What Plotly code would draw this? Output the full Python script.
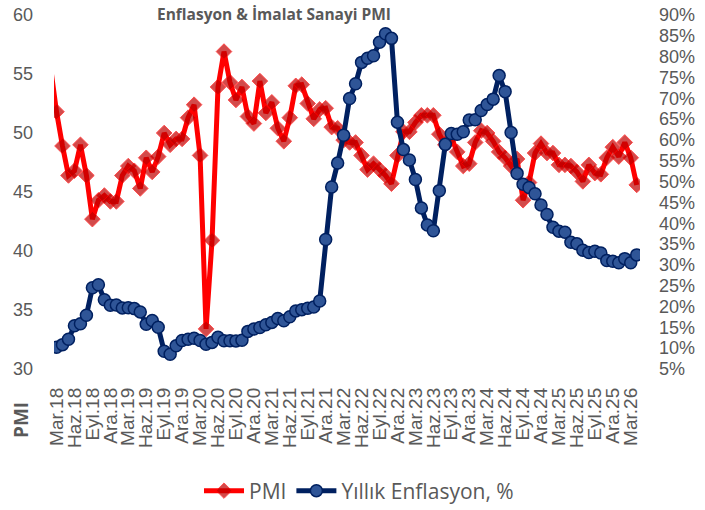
import plotly.graph_objects as go

# ---- data ----
month_names = ["Oca", "Şub", "Mar", "Nis", "May", "Haz", "Tem", "Ağu", "Eyl", "Eki", "Kas", "Ara"]
# categories from Şub.18 to Nis.26
months = []
for yr in range(18, 27):
    for m in month_names:
        months.append(f"{m}.{yr}")
months = months[months.index("Şub.18"): months.index("Nis.26") + 1]

pmi = [
    55.6, 51.8, 48.9, 46.4, 46.8, 49.0, 46.4, 42.7, 44.3, 44.7, 44.2,
    44.2, 46.4, 47.2, 46.8, 45.3, 47.9, 46.7, 48.0, 50.0, 49.0, 49.5, 49.5,
    51.3, 52.4, 48.1, 33.4, 40.9, 53.9, 56.9, 54.3, 52.8, 53.9, 51.4, 50.8,
    54.4, 51.7, 52.6, 50.4, 49.3, 51.3, 54.0, 54.1, 52.5, 51.2, 52.0, 52.1,
    50.5, 50.4, 49.4, 49.2, 49.2, 48.1, 46.9, 47.4, 46.9, 46.4, 45.7, 48.1,
    50.1, 50.1, 50.9, 51.5, 51.5, 51.5, 49.9, 49.0, 49.6, 48.4, 47.2, 47.4,
    49.2, 50.2, 50.0, 49.3, 48.4, 47.9, 47.2, 47.8, 44.3, 45.8, 48.3, 49.1,
    48.3, 48.3, 47.3, 47.3, 47.2, 46.7, 45.9, 47.3, 46.6, 46.5, 47.9, 48.8,
    48.0, 49.2, 47.9, 45.6,
]

inflation = [
    None, 10.23, 10.85, 12.15, 15.39, 15.85, 17.90, 24.52, 25.24, 21.62, 20.30,
    20.35, 19.67, 19.71, 19.50, 18.71, 15.72, 16.65, 15.01, 9.26, 8.55, 10.56, 11.84,
    12.15, 12.37, 11.86, 10.94, 11.39, 12.62, 11.76, 11.77, 11.75, 11.89, 14.03, 14.60,
    14.97, 15.61, 16.19, 17.14, 16.59, 17.53, 18.95, 19.25, 19.58, 19.89, 21.31, 36.08,
    48.69, 54.44, 61.14, 69.97, 73.50, 78.62, 79.60, 80.21, 83.45, 85.51, 84.39, 64.27,
    57.68, 55.18, 50.51, 43.68, 39.59, 38.21, 47.83, 58.94, 61.53, 61.36, 61.98, 64.77,
    64.86, 67.07, 68.50, 69.80, 75.45, 71.60, 61.78, 51.97, 49.38, 48.58, 47.09, 44.38,
    42.12, 39.05, 38.10, 37.86, 35.41, 35.05, 33.52, 32.95, 33.29, 32.87, 31.07, 30.89,
    30.5, 31.5, 30.5, 32.4,
]

tick_labels = [
    "Mar.18", "Haz.18", "Eyl.18", "Ara.18", "Mar.19", "Haz.19", "Eyl.19", "Ara.19",
    "Mar.20", "Haz.20", "Eyl.20", "Ara.20", "Mar.21", "Haz.21", "Eyl.21", "Ara.21",
    "Mar.22", "Haz.22", "Eyl.22", "Ara.22", "Mar.23", "Haz.23", "Eyl.23", "Ara.23",
    "Mar.24", "Haz.24", "Eyl.24", "Ara.24", "Mar.25", "Haz.25", "Eyl.25", "Ara.25",
    "Mar.26",
]

left_ticks = [30, 35, 40, 45, 50, 55, 60]
right_ticks = [5, 10, 15, 20, 25, 30, 35, 40, 45, 50, 55, 60, 65, 70, 75, 80, 85, 90]

# ---- styling ----
GRAY = "#595959"
FONT = "Open Sans"
TICKFONT = "Liberation Sans"
W, H = 705, 510
# plot area in screen pixels
PX0, PX1, PY0, PY1 = 54, 640, 15, 369
L, T = PX0, PY0
R, B = W - PX1, H - PY1
PW, PH = PX1 - PX0, PY1 - PY0


def px(sx):
    return (sx - PX0) / PW


def py(sy):
    return (PY1 - sy) / PH


fig = go.Figure()
fig.add_trace(go.Scatter(
    x=months, y=pmi, name="PMI", mode="lines+markers",
    line=dict(color="#FF0000", width=5),
    marker=dict(symbol="diamond", size=[0] + [12] * (len(pmi) - 1), color="#C00000"),
    yaxis="y",
))
fig.add_trace(go.Scatter(
    x=months, y=inflation, name="Yıllık Enflasyon, %", mode="lines+markers",
    line=dict(color="#002060", width=5),
    marker=dict(symbol="circle", size=12, color="#2F5597",
                line=dict(color="#002060", width=1.5)),
    yaxis="y2", connectgaps=False,
))

fig.update_layout(
    width=W, height=H,
    margin=dict(l=L, r=R, t=T, b=B, autoexpand=False),
    paper_bgcolor="white", plot_bgcolor="white",
    font=dict(family=FONT, color=GRAY, size=18),
    showlegend=True,
    legend=dict(orientation="h", x=px(359), xanchor="center",
                y=py(491), yanchor="middle",
                font=dict(size=21, color=GRAY), itemwidth=40,
                bgcolor="rgba(0,0,0,0)"),
    xaxis=dict(
        type="category", categoryorder="array", categoryarray=months,
        range=[0.58, 98.55],
        tickmode="array", tickvals=tick_labels, ticktext=tick_labels,
        tickangle=-90, tickfont=dict(size=19, color=GRAY, family=TICKFONT),
        showgrid=False, zeroline=False, showline=False, ticks="",
        ticklabelstandoff=14, automargin=False, ticklabeloverflow="allow",
    ),
    yaxis=dict(
        range=[30, 60], tickvals=left_ticks, ticks="",
        showgrid=False, zeroline=False, showline=False,
        tickfont=dict(size=18, color=GRAY, family=TICKFONT), ticklabelstandoff=20,
        automargin=False, ticklabeloverflow="allow",
    ),
    yaxis2=dict(
        range=[5, 90], tickvals=right_ticks,
        ticktext=[f"{v}%" for v in right_ticks],
        overlaying="y", side="right", ticks="",
        showgrid=False, zeroline=False, showline=False,
        tickfont=dict(size=18, color=GRAY, family=TICKFONT), ticklabelstandoff=18,
        automargin=False, ticklabeloverflow="allow",
    ),
    annotations=[
        dict(text="<b>Enflasyon & İmalat Sanayi PMI</b>", xref="paper", yref="paper",
             x=px(274), y=py(14), xanchor="center", yanchor="middle",
             showarrow=False, font=dict(size=15.5, color=GRAY, family=FONT)),
        dict(text="<b>PMI</b>", xref="paper", yref="paper",
             x=px(21), y=py(420), xanchor="center", yanchor="middle",
             textangle=-90, showarrow=False, font=dict(size=19, color=GRAY, family=FONT)),
    ],
)

fig.write_html("out.html", config={"displayModeBar": False},
               post_script="document.body.style.margin='0';")
